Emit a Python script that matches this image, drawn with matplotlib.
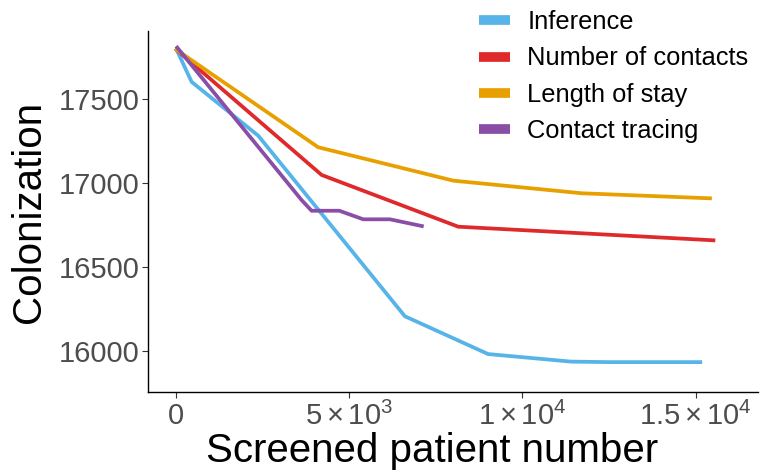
import matplotlib
matplotlib.use("Agg")
import matplotlib.pyplot as plt

plt.rcParams["font.family"] = ["Liberation Sans", "DejaVu Sans"]
plt.rcParams["mathtext.fontset"] = "custom"
plt.rcParams["mathtext.rm"] = "Liberation Sans"
plt.rcParams["mathtext.it"] = "Liberation Sans"

# values
inference_x = [30, 460, 2380, 6610, 9010, 11400, 12500, 15130]
inference_y = [17790, 17600, 17280, 16205, 15980, 15935, 15932, 15932]

contacts_x = [30, 4210, 8150, 15510]
contacts_y = [17790, 17046, 16738, 16657]

stay_x = [30, 4110, 8010, 11710, 15410]
stay_y = [17790, 17211, 17012, 16937, 16907]

tracing_x = [46, 3630, 3920, 4720, 5410, 6180, 7100]
tracing_y = [17804, 16897, 16833, 16833, 16782, 16782, 16742]

series = [
    ("Inference", inference_x, inference_y, "#56B4E9"),
    ("Number of contacts", contacts_x, contacts_y, "#DF2A2C"),
    ("Length of stay", stay_x, stay_y, "#E8A000"),
    ("Contact tracing", tracing_x, tracing_y, "#8B4EA6"),
]

x_ticks = [0, 5000, 10000, 15000]
x_tick_labels = ["0", r"$5\times10^{3}$", r"$1\times10^{4}$", r"$1.5\times10^{4}$"]
y_ticks = [16000, 16500, 17000, 17500]

fig = plt.figure(figsize=(7.62, 4.73), dpi=100)
ax = fig.add_axes([0.1942, 0.1712, 0.8006, 0.7633])

handles = []
for label, xs, ys, color in series:
    line, = ax.plot(xs, ys, color=color, lw=2.7, label=label, solid_joinstyle="miter")
    handles.append(line)

ax.set_xlim(-799, 16796)
ax.set_ylim(15754, 17903)
ax.set_xticks(x_ticks)
ax.set_xticklabels(x_tick_labels)
ax.set_yticks(y_ticks)

for side in ["top", "right"]:
    ax.spines[side].set_visible(False)
for side in ["left", "bottom"]:
    ax.spines[side].set_linewidth(1.0)
    ax.spines[side].set_color("black")

ax.tick_params(axis="both", length=4, width=0.8, color="#333333",
               labelsize=21, labelcolor="#4D4D4D", pad=2)
ax.tick_params(axis="x", pad=3)

ax.set_xlabel("Screened patient number", fontsize=29)
ax.xaxis.set_label_coords(0.466, -0.112, transform=ax.transAxes)
ax.xaxis.label.set_va("top")
ax.set_ylabel("Colonization", fontsize=29, labelpad=8)

leg = fig.legend(handles=handles, loc="upper left", bbox_to_anchor=(0.615, 1.0),
                 frameon=False, fontsize=18.4, handlelength=1.2, handletextpad=0.7,
                 labelspacing=0.48, borderaxespad=0)
for h in leg.legend_handles:
    h.set_linewidth(7)
    h.set_solid_capstyle("butt")

fig.savefig("out.png", dpi=100)
